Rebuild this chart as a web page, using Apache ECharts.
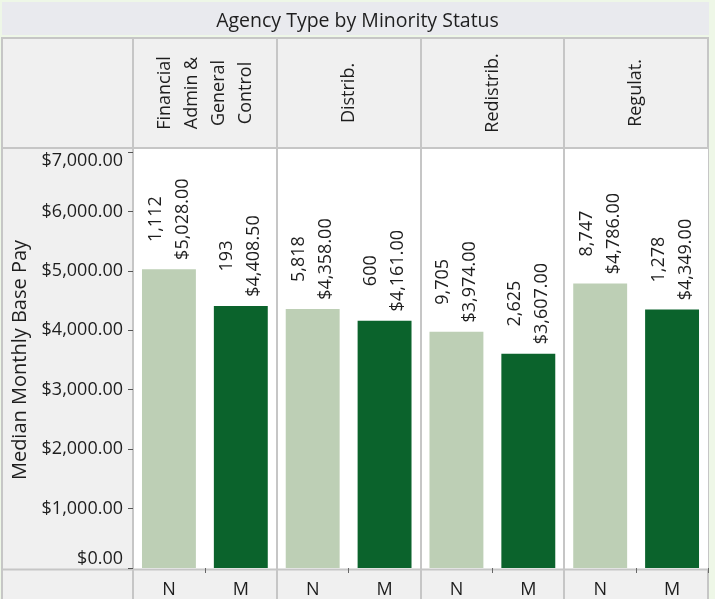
<!DOCTYPE html>
<html>
<head>
<meta charset="utf-8">
<script src="https://cdn.jsdelivr.net/npm/echarts@6/dist/echarts.min.js"></script>
<style>
  html, body { margin: 0; padding: 0; background: #eef7e7; }
  #main { width: 715px; height: 599px; }
</style>
</head>
<body>
<div id="main"></div>
<script>
// agency groups, minority status, medians and counts
var groups = ["Financial\nAdmin &\nGeneral\nControl", "Distrib.", "Redistrib.", "Regulat."];
var statuses = ["N", "M"];
var payN = [5028, 4358, 3974, 4786];
var payM = [4408.5, 4161, 3607, 4349];
var countN = [1112, 5818, 9705, 8747];
var countM = [193, 600, 2625, 1278];
var yTicks = [0, 1000, 2000, 3000, 4000, 5000, 6000, 7000];

var colorN = "#bdcfb5";
var colorM = "#0b632c";

// layout of the table frame
var gLeft = 133, gRight = 708, gTop = 152, gBottom = 569;
var headTop = 38, plotTop = 148, frameLeft = 2, frameBottom = 599;

var cats = [], barData = [];
for (var i = 0; i < groups.length; i++) {
  cats.push(statuses[0], statuses[1]);
  barData.push({ value: payN[i], n: countN[i], itemStyle: { color: colorN } });
  barData.push({ value: payM[i], n: countM[i], itemStyle: { color: colorM } });
}

function money(v) {
  return "$" + v.toLocaleString("en-US", { minimumFractionDigits: 2, maximumFractionDigits: 2 });
}

var font = "'Open Sans', 'Noto Sans', sans-serif";
var lineC = "#c6c6c6";
var txtC = "#1e1e1e";

var graphics = [
  { type: "rect", z: -10, shape: { x: 2, y: 2, width: 707, height: 33 }, style: { fill: "#e9eaee" } },
  { type: "rect", z: -10, shape: { x: frameLeft, y: headTop, width: gRight - frameLeft, height: frameBottom - headTop + 5 },
    style: { fill: "#f0f0f0", stroke: lineC, lineWidth: 2 } },
  { type: "rect", z: -9, shape: { x: gLeft, y: plotTop, width: gRight - gLeft, height: gBottom - plotTop }, style: { fill: "#ffffff" } },
  { type: "line", z: -8, shape: { x1: frameLeft, y1: plotTop, x2: gRight, y2: plotTop }, style: { stroke: lineC, lineWidth: 2 } },
  { type: "line", z: -8, shape: { x1: frameLeft, y1: gBottom + 0.5, x2: gRight, y2: gBottom + 0.5 }, style: { stroke: lineC, lineWidth: 2 } }
];
var colW = (gRight - gLeft) / groups.length;
for (var k = 0; k < groups.length; k++) {
  var x = Math.round(gLeft + k * colW);
  graphics.push({ type: "line", z: -8, shape: { x1: x, y1: headTop, x2: x, y2: frameBottom },
    style: { stroke: lineC, lineWidth: 2 } });
}

var myChart = echarts.init(document.getElementById("main"));
myChart.setOption({
  backgroundColor: "#eef7e7",
  textStyle: { fontFamily: font },
  title: {
    text: "Agency Type by Minority Status",
    left: "center",
    top: 6,
    textStyle: { fontFamily: font, fontSize: 19.5, fontWeight: "normal", color: txtC }
  },
  graphic: graphics,
  grid: { left: gLeft, right: 715 - gRight, top: gTop, bottom: 599 - gBottom },
  xAxis: [
    {
      type: "category",
      data: cats,
      position: "bottom",
      axisLine: { show: false },
      axisTick: {
        show: true,
        length: 5,
        interval: function (index) { return index % 2 === 1; },
        lineStyle: { color: "#666" }
      },
      axisLabel: { margin: 13, fontSize: 18, color: txtC, fontFamily: font, interval: 0 }
    },
    {
      // group axis, its labels are placed as header texts below
      type: "category",
      data: groups,
      position: "top",
      axisLine: { show: false },
      axisTick: { show: false },
      axisLabel: { show: false }
    }
  ],
  yAxis: {
    type: "value",
    min: 0,
    max: 7000,
    interval: 1000,
    name: "Median Monthly Base Pay",
    nameLocation: "middle",
    nameGap: 99,
    nameTextStyle: { fontSize: 20, color: txtC, fontFamily: font },
    splitLine: { show: false },
    axisLine: { show: false },
    axisTick: { show: true, length: 5, lineStyle: { color: "#555" } },
    axisLabel: {
      margin: 10,
      fontSize: 18,
      color: txtC,
      fontFamily: font,
      verticalAlignMinLabel: "bottom",
      verticalAlignMaxLabel: "top",
      formatter: function (v) { return money(v); }
    }
  },
  series: [
    {
      type: "bar",
      barWidth: "75%",
      data: barData,
      label: {
        show: true,
        position: "top",
        rotate: 90,
        align: "center",
        verticalAlign: "middle",
        distance: 50,
        fontSize: 18,
        lineHeight: 27,
        color: txtC,
        fontFamily: font,
        formatter: function (p) {
          return p.data.n.toLocaleString("en-US") + "\n" + money(p.value);
        }
      }
    }
  ]
});

// header texts centred in their cells, x taken from the group axis
var headers = groups.map(function (g) {
  var px = myChart.convertToPixel({ xAxisIndex: 1 }, g);
  return {
    type: "text",
    x: px,
    y: (headTop + plotTop) / 2,
    rotation: Math.PI / 2,
    z: 5,
    style: {
      text: g,
      align: "center",
      verticalAlign: "middle",
      font: "18px " + font,
      lineHeight: 27,
      fill: txtC
    }
  };
});
myChart.setOption({ graphic: graphics.concat(headers) });
</script>
</body>
</html>
